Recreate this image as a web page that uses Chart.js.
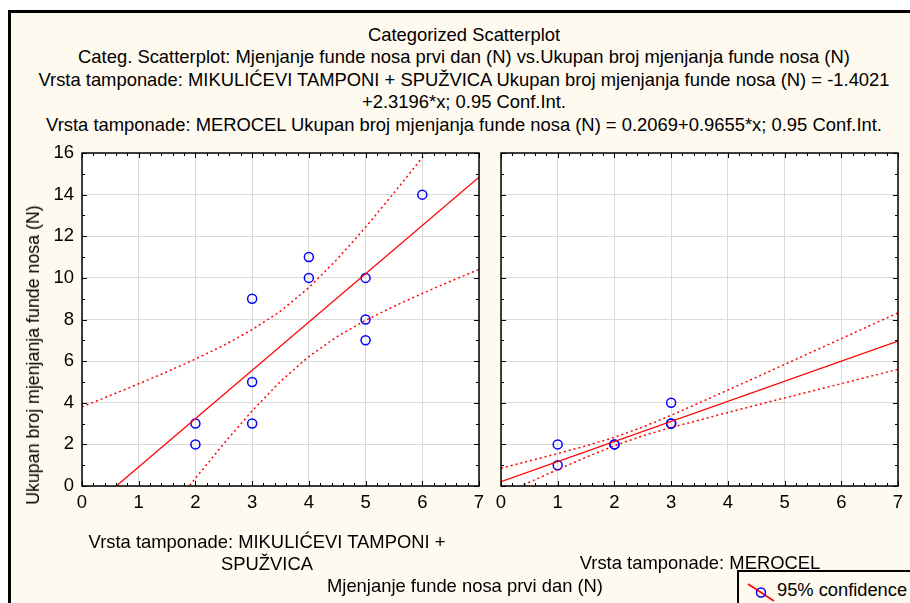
<!DOCTYPE html>
<html>
<head>
<meta charset="utf-8">
<script src="https://cdn.jsdelivr.net/npm/chart.js@4.4.1/dist/chart.umd.min.js"></script>
<style>
  body { margin: 0; width: 910px; height: 603px; overflow: hidden; background: #fff; font-family: "Liberation Sans", Arial, sans-serif; }
  #frame { position: absolute; left: 8px; top: 10px; width: 1000px; height: 700px; background: #fffaf0; border: 3px solid #000; box-sizing: border-box; }
  canvas { position: absolute; left: 0; top: 0; }
  .txt { position: absolute; color: #000; white-space: nowrap; font-size: 18.4px; line-height: 22px; }
  .title { left: 0; width: 928px; text-align: center; }
  #ytitle { position: absolute; left: 33px; top: 355px; transform: translate(-50%, -50%) rotate(-90deg); font-size: 17.8px; line-height: 20px; white-space: nowrap; }
  #legend { position: absolute; left: 737px; top: 570px; width: 220px; height: 60px; border: 2px solid #000; box-sizing: border-box; background: #fffaf0; }
  #legend svg { position: absolute; left: 8px; top: 10px; }
  #legend span { position: absolute; left: 38px; top: 7px; font-size: 18.3px; }
</style>
</head>
<body>
<div id="frame"></div>
<div class="txt title" style="top:24px">Categorized Scatterplot</div>
<div class="txt title" style="top:46px">Categ. Scatterplot: Mjenjanje funde nosa prvi dan (N) vs.Ukupan broj mjenjanja funde nosa (N)</div>
<div class="txt title" style="top:69px">Vrsta tamponade: MIKULIĆEVI TAMPONI + SPUŽVICA Ukupan broj mjenjanja funde nosa (N) = -1.4021</div>
<div class="txt title" style="top:91px">+2.3196*x; 0.95 Conf.Int.</div>
<div class="txt title" style="top:114px">Vrsta tamponade: MEROCEL Ukupan broj mjenjanja funde nosa (N) = 0.2069+0.9655*x; 0.95 Conf.Int.</div>

<canvas id="leftChart" width="910" height="603"></canvas>
<canvas id="rightChart" width="910" height="603"></canvas>

<div id="ytitle">Ukupan broj mjenjanja funde nosa (N)</div>
<div class="txt" style="left:67px;width:400px;text-align:center;top:531px">Vrsta tamponade: MIKULIĆEVI TAMPONI +<br>SPUŽVICA</div>
<div class="txt" style="left:500px;width:400px;text-align:center;top:552px">Vrsta tamponade: MEROCEL</div>
<div class="txt" style="left:265px;width:400px;text-align:center;top:575px">Mjenjanje funde nosa prvi dan (N)</div>

<div id="legend">
  <svg width="30" height="26"><line x1="1" y1="2" x2="27" y2="19" stroke="#ff0000" stroke-width="1.5"/><circle cx="14" cy="10.5" r="4.5" fill="none" stroke="#0000ff" stroke-width="1.5"/></svg>
  <span>95% confidence</span>
</div>

<script>
// MIKULICEVI TAMPONI + SPUZVICA
const leftX = [2, 2, 3, 3, 3, 4, 4, 5, 5, 5, 6];
const leftY = [3, 2, 9, 5, 3, 11, 10, 10, 8, 7, 14];
// MEROCEL
const rightX = [1, 1, 2, 2, 3, 3, 3];
const rightY = [2, 1, 2, 2, 4, 3, 3];

// fitted lines (ends at x = 0 and 7)
const fitX = [0, 7];
const leftFitY = [-1.4021, 14.835];
const rightFitY = [0.2069, 6.9654];

// 95% confidence bands
const ciX = [0, 0.5, 1, 1.5, 2, 2.5, 3, 3.5, 4, 4.5, 5, 5.5, 6, 6.5, 7];
const leftUpper = [3.80, 4.35, 4.91, 5.49, 6.10, 6.76, 7.51, 8.40, 9.53, 10.90, 12.43, 14.08, 15.78, 17.51, 19.26];
const leftLower = [-6.60, -4.83, -3.08, -1.34, 0.37, 2.03, 3.61, 5.03, 6.22, 7.18, 7.96, 8.63, 9.25, 9.84, 10.41];
const rightUpper = [0.85, 1.20, 1.56, 1.93, 2.34, 2.83, 3.40, 4.00, 4.61, 5.22, 5.84, 6.46, 7.08, 7.70, 8.32];
const rightLower = [-0.44, 0.18, 0.79, 1.38, 1.94, 2.41, 2.81, 3.17, 3.53, 3.88, 4.23, 4.57, 4.92, 5.26, 5.61];

const xMin = 0, xMax = 7, yMin = 0, yMax = 16;

function pts(xs, ys) {
    return xs.map((x, i) => ({x: x, y: ys[i]}));
}

// white plot area, black box and inward ticks like Statistica
const boxPlugin = {
    id: 'box',
    beforeDraw(chart) {
        const a = chart.chartArea, ctx = chart.ctx;
        ctx.save();
        ctx.fillStyle = '#ffffff';
        ctx.fillRect(a.left, a.top, a.right - a.left, a.bottom - a.top);
        ctx.restore();
    },
    afterDraw(chart) {
        const a = chart.chartArea, ctx = chart.ctx;
        const xs = chart.scales.x, ys = chart.scales.y;
        ctx.save();
        ctx.strokeStyle = '#000';
        ctx.lineWidth = 1.5;
        ctx.strokeRect(a.left, a.top, a.right - a.left, a.bottom - a.top);
        ctx.lineWidth = 1;
        ctx.beginPath();
        for (let i = 0; i <= 35; i++) {
            const px = Math.round(xs.getPixelForValue(i / 5)) + 0.5;
            const len = i % 5 === 0 ? 5 : 3;
            ctx.moveTo(px, a.top); ctx.lineTo(px, a.top + len);
            ctx.moveTo(px, a.bottom); ctx.lineTo(px, a.bottom - len);
        }
        for (let v = 0; v <= 16; v++) {
            const py = Math.round(ys.getPixelForValue(v)) + 0.5;
            const len = v % 2 === 0 ? 5 : 3;
            ctx.moveTo(a.left, py); ctx.lineTo(a.left + len, py);
            ctx.moveTo(a.right, py); ctx.lineTo(a.right - len, py);
        }
        ctx.stroke();
        ctx.restore();
    }
};

function makeChart(id, xs, ys, fitY, upper, lower, pad, showY) {
    const ctx = document.getElementById(id).getContext('2d');
    return new Chart(ctx, {
        type: 'scatter',
        data: {
            datasets: [
                {data: pts(ciX, upper), showLine: true, pointRadius: 0, borderColor: '#ff0000', borderWidth: 1.5, borderDash: [2, 3], fill: false},
                {data: pts(ciX, lower), showLine: true, pointRadius: 0, borderColor: '#ff0000', borderWidth: 1.5, borderDash: [2, 3], fill: false},
                {data: pts(fitX, fitY), showLine: true, pointRadius: 0, borderColor: '#ff0000', borderWidth: 1.3, fill: false},
                {data: pts(xs, ys), pointRadius: 4.5, pointBorderColor: '#0000ff', pointBackgroundColor: 'rgba(0,0,0,0)', pointBorderWidth: 1.5}
            ]
        },
        options: {
            responsive: false,
            animation: false,
            events: [],
            layout: {padding: pad},
            plugins: {legend: {display: false}, tooltip: {enabled: false}},
            scales: {
                x: {
                    type: 'linear', min: xMin, max: xMax,
                    ticks: {stepSize: 1, color: '#000', padding: 6, font: {family: 'Liberation Sans', size: 18.5}},
                    grid: {color: '#dadada', drawTicks: false},
                    border: {display: false},
                    afterFit(s) { s.height = 30; }
                },
                y: {
                    min: yMin, max: yMax,
                    ticks: {display: showY, stepSize: 2, color: '#000', padding: 8, font: {family: 'Liberation Sans', size: 18.5}},
                    grid: {color: '#dadada', drawTicks: false},
                    border: {display: false},
                    afterFit(s) { s.width = showY ? 82 : 0; }
                }
            }
        },
        plugins: [boxPlugin]
    });
}

makeChart('leftChart', leftX, leftY, leftFitY, leftUpper, leftLower, {left: 0, top: 153, right: 910 - 479, bottom: 603 - 486 - 30}, true);
makeChart('rightChart', rightX, rightY, rightFitY, rightUpper, rightLower, {left: 501, top: 153, right: 910 - 898, bottom: 603 - 486 - 30}, false);
</script>
</body>
</html>
